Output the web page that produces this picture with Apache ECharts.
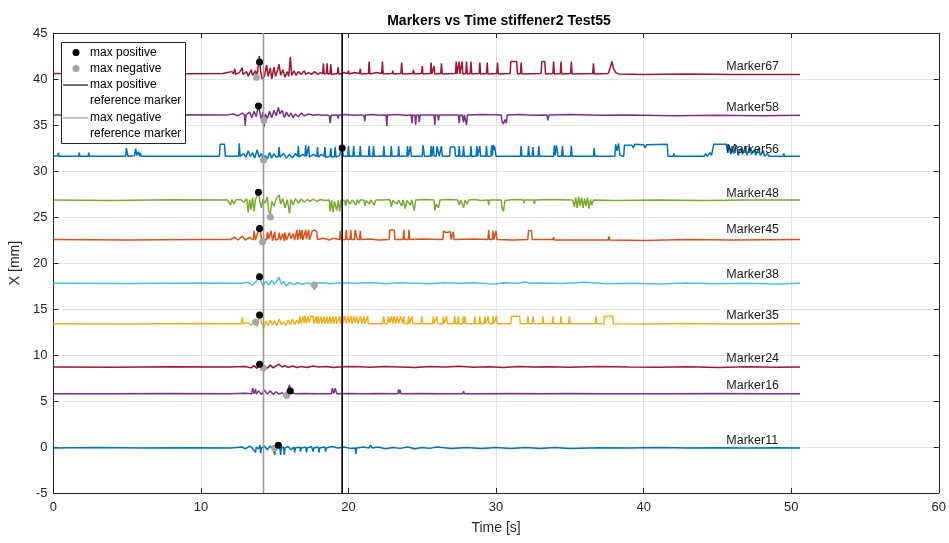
<!DOCTYPE html>
<html>
<head>
<meta charset="utf-8">
<script src="https://cdn.jsdelivr.net/npm/echarts@6/dist/echarts.min.js"></script>
<style>
  html, body { margin: 0; padding: 0; background: #fff; }
  #chart { width: 949px; height: 543px; }
</style>
</head>
<body>
<div id="chart"></div>
<script>
// marker names, bottom to top
const markerNames = ['Marker11', 'Marker16', 'Marker24', 'Marker35', 'Marker38', 'Marker45', 'Marker48', 'Marker56', 'Marker58', 'Marker67'];
const markerColors = ['#0072BD', '#7E2F8E', '#A2142F', '#EDB120', '#4DBEEE', '#D95319', '#77AC30', '#0072BD', '#7E2F8E', '#A2142F'];

// [time s, X mm]
const m11 = [[0,-0.1],[3,-0.05],[6,-0.12],[9,-0.08],[12,-0.1],[12.8,0.0],[13.0,-0.2],[13.3,0.1],[13.5,-0.15],[13.7,-0.6],[13.75,0.0],[13.9,-0.2],[14.0,0.2],[14.05,-0.7],[14.1,-0.1],[14.3,0.1],[14.5,-0.3],[14.7,0.1],[14.9,-0.2],[15.0,-0.85],[15.05,-0.1],[15.25,0.25],[15.35,-0.1],[15.4,-0.9],[15.45,-0.1],[15.6,0.0],[15.65,-0.85],[15.7,-0.1],[15.9,0.05],[16.1,-0.3],[16.3,0.0],[16.35,-0.6],[16.4,-0.1],[16.7,0.0],[16.75,-0.5],[16.8,-0.1],[17.1,0.0],[17.15,-0.6],[17.2,-0.1],[17.5,0.05],[17.6,-0.5],[17.65,-0.1],[17.95,0.0],[18.0,-0.6],[18.05,-0.1],[18.4,0.0],[18.45,-0.5],[18.5,-0.1],[18.9,0.05],[19.3,-0.1],[19.7,0.0],[20.1,-0.15],[20.45,-0.1],[20.5,-0.75],[20.55,-0.1],[21.0,0.0],[21.4,-0.1],[21.5,0.2],[21.6,-0.1],[22.0,0.0],[22.5,-0.2],[23.0,-0.05],[23.5,-0.15],[24,0.0],[24.5,-0.2],[25,-0.05],[25.5,-0.15],[26,0.0],[27,-0.15],[28,-0.05],[29,-0.15],[30,-0.05],[31,-0.15],[32,-0.05],[33,-0.15],[34,-0.05],[35,-0.15],[37,-0.08],[39,-0.12],[41,-0.06],[43,-0.12],[45,-0.08],[47,-0.12],[49,-0.08],[50.6,-0.1]];
const m16 = [[0,5.8],[4,5.78],[8,5.82],[12,5.8],[13.0,5.85],[13.45,5.8],[13.5,6.4],[13.6,5.8],[13.7,6.3],[13.75,5.75],[13.9,6.1],[14.1,5.7],[14.3,6.2],[14.5,5.75],[14.7,6.1],[14.9,5.7],[15.1,6.0],[15.3,5.75],[15.5,5.9],[15.7,5.65],[15.8,5.57],[15.9,6.2],[16.0,6.75],[16.1,6.0],[16.2,5.9],[16.35,5.8],[17,5.82],[18,5.78],[18.85,5.8],[18.9,6.4],[19.0,5.8],[19.1,6.4],[19.2,5.8],[20,5.82],[21,5.78],[22,5.82],[23.35,5.8],[23.4,6.25],[23.45,5.8],[23.5,6.2],[23.55,5.8],[25,5.82],[26.5,5.78],[27.75,5.8],[27.8,6.05],[27.85,5.8],[29,5.78],[31,5.82],[33,5.78],[35,5.82],[37,5.78],[39,5.8],[42,5.78],[45,5.82],[48,5.78],[50.6,5.8]];
const m24 = [[0,8.7],[4,8.68],[8,8.72],[12,8.7],[13.0,8.75],[13.4,8.6],[13.6,8.85],[13.8,8.55],[13.97,9.05],[14.1,8.6],[14.3,8.8],[14.5,8.55],[14.7,8.9],[14.9,8.6],[15.1,8.85],[15.3,9.0],[15.5,8.7],[15.7,8.85],[15.9,8.65],[16.2,8.8],[16.5,8.65],[16.8,8.75],[17.2,8.65],[17.6,8.8],[18.0,8.7],[18.5,8.75],[19.0,8.65],[19.5,8.72],[20.5,8.75],[21.5,8.68],[22.5,8.75],[23.5,8.7],[24.5,8.65],[25.5,8.75],[26.5,8.7],[27.5,8.78],[28.5,8.68],[29.5,8.72],[30.5,8.65],[31.5,8.75],[32.5,8.7],[33.5,8.72],[35,8.68],[37,8.75],[39,8.7],[41,8.68],[43,8.72],[45,8.65],[47,8.72],[49,8.68],[50.6,8.7]];
const m35 = [[0,13.4],[5,13.38],[10,13.42],[12.75,13.4],[12.8,14.1],[12.85,13.4],[13.2,13.5],[13.4,13.2],[13.55,13.6],[13.7,13.5],[13.8,13.1],[13.9,13.8],[14.0,14.35],[14.1,13.5],[14.25,13.0],[14.4,13.7],[14.55,13.2],[14.7,13.8],[14.85,13.3],[15.0,13.7],[15.15,13.2],[15.3,13.9],[15.45,13.3],[15.6,13.6],[15.75,13.2],[15.9,13.8],[16.05,13.3],[16.2,13.9],[16.35,13.3],[16.5,13.8],[16.65,13.4],[16.7,14.2],[16.8,13.4],[16.9,14.2],[17.0,13.5],[17.05,14.25],[17.15,13.4],[17.25,14.2],[17.35,13.5],[17.45,14.25],[17.6,14.2],[17.65,13.4],[17.8,14.2],[17.85,13.4],[17.95,14.2],[18.0,13.4],[18.15,14.2],[18.2,13.4],[18.35,14.2],[18.4,13.4],[18.55,14.2],[18.6,13.4],[18.75,14.2],[18.8,13.4],[18.95,14.2],[19.0,13.4],[19.15,14.2],[19.2,13.4],[19.4,14.2],[19.45,13.4],[19.6,14.2],[19.65,13.5],[19.75,14.25],[19.85,13.4],[19.95,14.2],[20.05,13.5],[20.15,14.25],[20.25,13.4],[20.35,14.2],[20.45,13.5],[20.55,14.2],[20.65,13.4],[20.8,14.2],[20.9,13.4],[21.05,14.2],[21.1,13.4],[21.3,14.2],[21.35,13.4],[22.3,13.4],[22.38,14.2],[22.45,13.4],[22.65,13.4],[22.7,14.2],[22.8,13.5],[22.9,14.2],[23.0,13.4],[23.1,14.2],[23.2,13.4],[23.3,14.2],[23.4,13.45],[23.55,14.2],[23.65,13.4],[23.75,14.2],[23.8,13.4],[24.02,13.4],[24.07,14.2],[24.12,13.4],[24.25,13.4],[24.3,14.2],[24.35,13.4],[24.92,13.4],[24.97,14.2],[25.02,13.4],[25.7,13.4],[25.75,14.2],[25.8,13.4],[25.93,13.4],[25.98,14.2],[26.03,13.4],[26.38,13.4],[26.43,14.2],[26.48,13.4],[26.6,13.4],[26.65,14.2],[26.7,13.4],[27.15,13.4],[27.2,14.2],[27.25,13.4],[27.39,13.4],[27.44,14.2],[27.49,13.4],[27.73,13.4],[27.78,14.2],[27.83,13.4],[27.85,13.4],[27.9,14.2],[27.95,13.4],[28.51,13.4],[28.56,14.2],[28.61,13.4],[28.85,13.4],[28.9,14.2],[28.95,13.4],[29.19,13.4],[29.24,14.2],[29.29,13.4],[29.42,13.4],[29.47,14.2],[29.52,13.4],[29.75,13.4],[29.8,14.2],[29.85,13.4],[29.98,13.4],[30.03,14.2],[30.08,13.4],[31.0,13.4],[31.04,14.2],[31.6,14.2],[31.64,13.4],[32.11,13.4],[32.16,14.2],[32.21,13.4],[32.45,13.4],[32.5,14.2],[32.55,13.4],[33.13,13.4],[33.18,14.2],[33.23,13.4],[33.8,13.4],[33.85,14.2],[33.9,13.4],[34.35,13.4],[34.4,14.2],[34.45,13.4],[34.92,13.4],[34.97,14.2],[35.02,13.4],[36.72,13.4],[36.77,14.2],[36.82,13.4],[37.3,13.4],[37.35,14.2],[37.9,14.2],[37.95,13.4],[40,13.38],[43,13.42],[46,13.38],[50.6,13.4]];
const m38 = [[0,17.8],[5,17.78],[10,17.82],[12.8,17.8],[13.2,17.9],[13.5,17.6],[13.75,18.0],[13.97,18.5],[14.1,17.9],[14.2,17.5],[14.4,18.0],[14.6,17.6],[14.8,18.1],[15.0,17.7],[15.3,18.45],[15.45,17.7],[15.6,18.0],[15.8,17.5],[16.0,17.9],[16.3,17.65],[16.6,17.85],[16.9,17.7],[17.2,17.85],[17.5,17.7],[17.68,17.1],[17.8,17.8],[18.2,17.85],[18.8,17.75],[19.5,17.85],[20.5,17.8],[21.5,17.88],[22.5,17.75],[23.5,17.85],[24.5,17.8],[25.5,17.75],[26.5,17.85],[27.5,17.8],[28.5,17.85],[29.5,17.75],[30,17.72],[30.5,17.85],[31.5,17.8],[32.0,17.95],[32.3,17.8],[33,17.82],[34.5,17.78],[36,17.9],[37.5,17.75],[39,17.8],[41,17.72],[43,17.82],[45,17.75],[47,17.8],[49,17.72],[50.6,17.8]];
const m45 = [[0,22.55],[5,22.5],[10,22.55],[12.0,22.55],[12.3,22.8],[12.5,22.5],[12.8,22.9],[13.0,22.5],[13.3,22.8],[13.55,22.5],[13.6,23.5],[13.7,22.5],[13.85,23.3],[14.0,23.8],[14.1,22.6],[14.17,22.3],[14.3,22.6],[14.45,22.5],[14.5,23.4],[14.6,22.6],[14.75,23.5],[14.85,22.4],[15.0,23.4],[15.05,22.5],[15.25,22.6],[15.3,23.3],[15.4,22.5],[15.55,23.2],[15.65,22.4],[15.7,23.3],[15.8,22.5],[16.0,23.3],[16.1,22.6],[16.25,23.2],[16.35,22.5],[16.5,23.6],[16.55,22.5],[16.7,23.6],[16.75,22.6],[16.85,23.6],[16.9,22.5],[17.1,23.6],[17.15,22.6],[17.3,23.6],[17.35,22.5],[17.55,23.5],[17.7,23.6],[17.85,23.4],[17.9,22.55],[18.3,22.7],[18.7,22.5],[19.0,22.7],[19.4,22.55],[19.45,23.5],[19.5,22.5],[19.8,22.55],[19.85,23.6],[19.9,22.55],[20.1,22.55],[20.15,23.6],[20.2,22.55],[20.4,22.55],[20.45,23.6],[20.55,23.6],[20.6,22.55],[20.75,22.55],[20.8,23.5],[20.85,22.55],[21.5,22.6],[22.0,22.5],[22.75,22.55],[22.8,23.6],[23.1,23.6],[23.15,22.55],[23.7,22.55],[23.75,23.6],[23.8,22.55],[24.05,22.55],[24.1,23.6],[24.15,22.55],[25.0,22.6],[26.4,22.55],[26.45,23.5],[26.6,23.3],[26.9,23.4],[26.95,22.55],[27.05,22.55],[27.1,23.4],[27.15,22.55],[28.5,22.6],[29.45,22.55],[29.5,23.6],[29.55,22.55],[29.75,22.55],[29.8,23.5],[29.85,22.55],[29.95,22.55],[30.0,23.5],[30.05,22.55],[31.2,22.5],[32.15,22.55],[32.2,23.5],[32.3,23.3],[32.4,23.5],[32.45,22.55],[33.85,22.55],[33.9,22.8],[33.95,22.5],[34.95,22.5],[35.0,22.7],[35.05,22.45],[37.6,22.5],[37.65,22.9],[37.7,22.5],[40,22.45],[43,22.55],[46,22.5],[50.6,22.55]];
const m48 = [[0,26.85],[4,26.8],[8,26.87],[11.8,26.85],[12.0,26.3],[12.1,26.9],[12.25,26.4],[12.35,26.85],[12.7,26.9],[12.9,26.6],[13.1,27.0],[13.2,25.5],[13.3,26.9],[13.4,25.8],[13.5,27.1],[13.6,25.6],[13.7,26.9],[13.9,27.7],[14.0,26.6],[14.1,26.0],[14.2,26.9],[14.35,26.5],[14.5,27.2],[14.6,25.6],[14.7,25.3],[14.8,26.7],[14.95,26.2],[15.1,27.0],[15.3,27.4],[15.4,26.4],[15.55,27.0],[15.7,26.0],[15.85,26.9],[16.0,25.4],[16.1,26.9],[16.25,26.3],[16.4,27.0],[16.6,26.5],[16.8,26.95],[17.0,26.6],[17.2,26.9],[17.4,26.7],[17.6,26.95],[17.85,26.7],[18.1,26.9],[18.4,26.8],[18.7,26.85],[18.75,25.6],[18.85,26.8],[18.95,25.5],[19.05,26.7],[19.2,25.7],[19.3,26.8],[19.4,25.6],[19.5,26.85],[19.75,26.8],[19.8,26.2],[19.9,26.9],[20.1,26.4],[20.25,26.85],[20.5,26.3],[20.6,26.9],[20.7,26.5],[20.8,26.85],[21.05,26.85],[21.1,26.2],[21.2,26.8],[21.4,26.4],[21.5,26.85],[21.75,26.3],[21.85,26.85],[22.4,26.85],[22.8,26.9],[22.9,26.1],[23.0,26.8],[23.3,26.4],[23.4,26.85],[23.6,26.2],[23.7,26.85],[23.85,25.9],[23.95,26.8],[24.2,26.3],[24.3,26.85],[24.45,25.7],[24.55,26.85],[25.2,26.9],[25.8,26.85],[25.85,25.7],[25.95,26.4],[26.1,26.0],[26.2,26.85],[26.8,26.9],[27.4,26.85],[27.5,26.3],[27.6,26.85],[27.8,26.0],[27.9,26.85],[28.05,26.4],[28.15,26.85],[28.5,26.9],[29.0,26.8],[29.45,26.85],[29.5,26.3],[29.55,26.85],[30.35,26.85],[30.4,26.0],[30.5,25.6],[30.6,26.8],[31.2,26.9],[31.85,26.85],[31.9,26.5],[31.95,26.85],[32.55,26.85],[32.6,26.4],[32.65,26.85],[33.5,26.9],[35.2,26.85],[35.3,26.1],[35.4,27.1],[35.5,26.0],[35.6,27.2],[35.7,26.2],[35.8,27.1],[35.9,26.0],[36.0,27.0],[36.1,26.2],[36.2,27.1],[36.3,25.9],[36.4,26.9],[36.5,26.3],[36.6,26.85],[38,26.8],[41,26.85],[44,26.8],[47,26.85],[50.6,26.85]];
const m56 = [[0,31.6],[0.3,31.65],[0.34,32.0],[0.38,31.6],[1.7,31.6],[1.75,32.0],[1.8,31.6],[2.35,31.6],[2.4,32.0],[2.45,31.6],[4.9,31.6],[4.95,32.5],[5.05,31.6],[5.5,31.65],[5.58,32.4],[5.65,31.7],[5.75,32.1],[5.85,31.6],[5.9,32.0],[5.95,31.6],[8,31.6],[11.25,31.6],[11.3,32.9],[11.6,32.9],[11.65,31.6],[12.55,31.6],[12.6,33.0],[12.65,31.6],[12.9,31.9],[13.05,31.5],[13.2,32.2],[13.35,31.6],[13.5,32.0],[13.65,31.4],[13.8,32.3],[13.95,31.5],[14.1,31.9],[14.24,31.1],[14.35,31.7],[14.5,31.3],[14.65,32.0],[14.8,31.4],[14.95,31.9],[15.1,31.5],[15.25,31.6],[15.3,32.6],[15.35,31.5],[15.6,31.9],[15.8,31.4],[16.0,31.8],[16.2,31.4],[16.4,31.9],[16.55,31.6],[16.6,32.7],[16.65,31.5],[16.9,31.8],[17.05,31.6],[17.1,32.8],[17.15,31.6],[17.25,31.6],[17.3,32.7],[17.35,31.5],[17.6,31.8],[17.85,31.6],[17.9,32.6],[17.95,31.5],[18.15,31.8],[18.35,31.6],[18.4,32.6],[18.45,31.5],[18.75,31.6],[18.8,32.5],[18.85,31.5],[19.05,31.6],[19.1,32.6],[19.15,31.5],[19.4,31.7],[19.52,31.6],[19.57,32.8],[19.65,31.6],[19.95,31.6],[20.0,32.7],[20.05,31.6],[20.3,31.6],[20.35,32.7],[20.4,31.6],[20.75,31.6],[20.8,32.7],[20.85,31.6],[21.35,31.6],[21.4,32.7],[21.45,31.6],[21.65,31.6],[21.7,32.7],[21.75,31.6],[22.35,31.6],[22.4,32.7],[22.45,31.6],[22.85,31.6],[22.9,32.7],[22.95,31.6],[23.35,31.6],[23.4,32.7],[23.45,31.6],[23.95,31.6],[24.0,32.7],[24.05,31.6],[24.15,31.6],[24.2,32.7],[24.25,31.6],[25.0,31.6],[25.05,32.8],[25.1,32.8],[25.15,31.6],[25.55,31.6],[25.6,32.7],[25.65,31.6],[25.7,31.6],[25.75,32.7],[25.8,31.6],[25.95,31.6],[26.0,32.7],[26.1,32.7],[26.15,31.6],[26.25,31.6],[26.3,32.7],[26.35,31.6],[26.85,31.6],[26.9,32.6],[27.2,32.6],[27.25,31.6],[27.45,31.6],[27.5,32.7],[27.55,31.6],[27.75,31.6],[27.8,32.7],[27.85,31.6],[28.25,31.6],[28.3,32.7],[28.35,31.6],[28.65,31.6],[28.7,32.7],[28.75,31.6],[28.85,31.6],[28.9,32.7],[28.95,31.6],[29.3,31.6],[29.35,32.7],[29.4,31.6],[29.65,31.6],[29.7,32.8],[29.75,31.7],[29.8,32.8],[29.85,32.3],[29.9,32.7],[30.0,31.6],[31.65,31.6],[31.7,32.7],[31.75,31.6],[32.15,31.6],[32.2,32.7],[32.25,31.6],[32.45,31.6],[32.5,32.6],[32.55,31.6],[32.85,31.6],[32.9,32.7],[32.95,31.6],[33.9,31.6],[33.95,32.8],[34.0,31.7],[34.1,32.8],[34.2,31.6],[34.45,31.6],[34.5,32.7],[34.55,31.6],[35.05,31.6],[35.1,32.7],[35.15,31.6],[36.6,31.6],[36.65,32.5],[36.7,31.6],[38.05,31.6],[38.1,32.9],[38.2,32.2],[38.3,33.0],[38.4,31.7],[38.65,31.6],[38.7,32.8],[39.2,32.8],[39.3,32.5],[39.4,32.9],[40.0,32.85],[40.1,32.5],[40.2,32.85],[41.6,32.9],[41.65,31.6],[42.0,31.6],[42.05,31.9],[42.1,31.6],[44.1,31.6],[44.2,31.9],[44.3,31.6],[44.5,32.0],[44.6,31.7],[44.75,32.9],[45.6,32.9],[45.7,32.0],[45.8,32.8],[45.9,31.8],[46.0,32.7],[46.1,31.9],[46.3,32.8],[46.4,31.7],[46.6,32.5],[46.7,31.8],[46.9,32.7],[47.0,31.7],[47.2,32.6],[47.3,31.8],[47.5,32.3],[47.6,31.7],[47.8,32.5],[47.9,31.7],[48.1,32.2],[48.2,31.6],[48.4,31.9],[48.5,31.6],[49.45,31.6],[49.5,31.9],[49.55,31.6],[50.6,31.6]];
const m58 = [[0,36.1],[4,36.05],[8,36.12],[11.8,36.1],[12.2,36.2],[12.5,36.0],[12.8,36.3],[12.95,36.1],[13.0,34.9],[13.05,36.1],[13.3,36.4],[13.45,35.8],[13.6,36.5],[13.75,35.9],[13.9,37.2],[14.0,36.3],[14.1,35.6],[14.2,36.4],[14.28,34.8],[14.36,36.2],[14.5,35.7],[14.65,36.5],[14.8,35.8],[14.95,36.6],[15.1,36.0],[15.25,36.9],[15.35,36.2],[15.5,36.6],[15.65,35.8],[15.8,36.4],[15.95,35.9],[16.1,36.3],[16.25,35.8],[16.4,36.2],[16.6,35.9],[16.8,36.3],[17.0,36.0],[17.3,36.2],[17.6,36.05],[17.9,36.15],[18.2,36.05],[18.5,36.1],[18.7,36.0],[18.76,35.2],[18.82,36.05],[19.25,36.1],[19.3,35.7],[19.35,36.1],[19.8,36.15],[20.3,36.05],[20.8,36.1],[21.05,36.05],[21.1,35.4],[21.15,36.1],[21.6,36.15],[22.1,36.05],[22.55,36.1],[22.6,34.9],[22.65,36.1],[23.3,36.15],[23.8,36.05],[24.25,36.1],[24.3,35.2],[24.35,36.1],[24.5,36.05],[24.55,35.0],[24.6,36.1],[24.75,36.05],[24.8,35.3],[24.85,36.1],[25.8,36.1],[25.85,35.0],[25.9,36.1],[26.05,36.05],[26.1,35.5],[26.15,36.1],[27.45,36.1],[27.5,35.2],[27.55,36.05],[27.7,36.1],[27.8,35.3],[27.85,36.1],[27.95,36.05],[28.0,35.0],[28.05,36.1],[29.0,36.15],[30.35,36.1],[30.4,35.4],[30.5,35.1],[30.6,35.6],[30.7,35.2],[30.75,36.1],[31.5,36.15],[32.5,36.05],[33.45,36.1],[33.5,35.5],[33.55,35.3],[33.6,36.1],[35,36.15],[37,36.05],[39,36.1],[42,36.0],[45,36.05],[48,36.0],[50.6,36.05]];
const m67 = [[0,40.6],[3,40.55],[6,40.62],[9,40.58],[11.5,40.6],[11.8,40.7],[11.9,40.5],[12.1,40.8],[12.2,40.55],[12.3,41.1],[12.35,40.5],[12.6,40.7],[12.8,41.2],[12.85,40.5],[13.1,40.8],[13.2,40.3],[13.4,41.0],[13.5,40.4],[13.7,40.9],[13.8,40.2],[13.95,42.5],[14.05,40.8],[14.15,40.0],[14.3,40.3],[14.45,41.5],[14.55,40.3],[14.7,41.2],[14.8,40.0],[14.95,41.3],[15.05,40.3],[15.2,41.0],[15.3,41.6],[15.4,40.4],[15.55,41.0],[15.7,40.2],[15.85,40.8],[15.95,40.3],[16.06,42.4],[16.15,40.4],[16.3,40.9],[16.45,40.4],[16.6,40.8],[16.8,40.5],[17.0,40.9],[17.1,40.5],[17.3,40.7],[17.5,40.5],[17.7,40.8],[17.9,40.5],[18.1,40.7],[18.25,40.55],[18.3,41.7],[18.35,40.55],[18.5,40.6],[18.55,41.7],[18.6,40.55],[18.75,40.6],[18.8,41.6],[18.85,40.5],[19.25,40.6],[19.3,41.3],[19.35,40.5],[19.7,40.7],[19.95,40.6],[20.0,40.9],[20.05,40.55],[20.4,40.7],[20.75,40.6],[20.8,41.1],[20.85,40.55],[21.35,40.6],[21.4,41.9],[21.45,40.55],[21.9,40.7],[22.25,40.6],[22.3,41.9],[22.35,40.55],[22.95,40.6],[23.0,40.9],[23.05,40.55],[23.55,40.6],[23.6,41.8],[23.65,40.55],[24.35,40.6],[24.4,41.0],[24.45,40.55],[24.95,40.6],[25.0,41.4],[25.05,40.55],[25.55,40.6],[25.6,41.8],[25.65,40.55],[25.75,40.6],[25.8,41.4],[25.85,40.55],[26.25,40.6],[26.3,41.7],[26.35,40.55],[27.25,40.6],[27.3,41.9],[27.35,40.55],[27.45,40.6],[27.5,41.9],[27.55,40.55],[27.65,40.6],[27.7,41.9],[27.75,40.55],[27.95,40.6],[28.0,41.9],[28.05,40.55],[28.25,40.6],[28.3,41.9],[28.35,40.55],[28.85,40.6],[28.9,41.8],[28.95,40.55],[29.35,40.6],[29.4,41.8],[29.45,40.55],[30.05,40.6],[30.1,41.8],[30.15,40.55],[30.95,40.6],[31.0,41.9],[31.4,41.9],[31.45,40.55],[31.65,40.6],[31.7,41.8],[31.75,40.55],[33.05,40.6],[33.1,41.9],[33.3,41.9],[33.35,40.55],[33.85,40.6],[33.9,41.9],[33.95,40.55],[34.35,40.6],[34.4,41.9],[34.45,40.55],[35.05,40.6],[35.1,41.9],[35.15,40.55],[36.55,40.6],[36.6,41.7],[36.65,40.55],[37.6,40.6],[37.75,41.3],[37.85,41.9],[37.95,41.2],[38.1,40.7],[38.3,40.55],[40,40.5],[43,40.55],[46,40.5],[50.6,40.5]];
const markerData = [m11, m16, m24, m35, m38, m45, m48, m56, m58, m67];

// max positive / max negative points per marker (same order)
const maxPosX = [15.25, 16.06, 13.97, 13.97, 13.97, 13.97, 13.9, 19.57, 13.9, 13.97];
const maxPosY = [0.2, 6.1, 9.0, 14.35, 18.5, 23.75, 27.7, 32.5, 37.07, 41.85];
const maxNegX = [15.0, 15.8, 14.24, 13.7, 17.68, 14.17, 14.71, 14.24, 14.27, 13.77];
const maxNegY = [-0.1, 5.6, 8.6, 13.6, 17.6, 22.3, 25.0, 31.2, 35.5, 40.2];

// reference marker times
const refPosTime = 19.57;
const refNegTime = 14.24;

// name label anchors
const labelX = 45.6;
const labelY = [0.65, 6.7, 9.65, 14.25, 18.7, 23.6, 27.6, 32.3, 36.95, 41.4];

const textColor = '#262626';
const font = 'Liberation Sans, Arial, Helvetica, sans-serif';

const chart = echarts.init(document.getElementById('chart'), null, { renderer: 'canvas' });

const series = [];
markerNames.forEach((name, i) => {
  series.push({
    name: name,
    type: 'line',
    data: markerData[i],
    showSymbol: false,
    symbol: 'none',
    lineStyle: { color: markerColors[i], width: 1.5 },
    z: 2,
    silent: true,
  });
});

series.push({
  name: 'max positive reference marker',
  type: 'line',
  data: [[refPosTime, -5], [refPosTime, 45]],
  symbol: 'none',
  lineStyle: { color: '#000', width: 1.6 },
  z: 3,
});
series.push({
  name: 'max negative reference marker',
  type: 'line',
  data: [[refNegTime, -5], [refNegTime, 45]],
  symbol: 'none',
  lineStyle: { color: '#9a9a9a', width: 1.6 },
  z: 3,
});
series.push({
  name: 'max positive',
  type: 'scatter',
  data: maxPosX.map((x, i) => [x, maxPosY[i]]),
  symbolSize: 7,
  itemStyle: { color: '#000', opacity: 1 },
  z: 5,
});
series.push({
  name: 'max negative',
  type: 'scatter',
  data: maxNegX.map((x, i) => [x, maxNegY[i]]),
  symbolSize: 7,
  itemStyle: { color: '#a6a6a6', opacity: 1 },
  z: 4,
});
series.push({
  name: 'labels',
  type: 'scatter',
  data: markerNames.map((n, i) => [labelX, labelY[i], n]),
  symbolSize: 0,
  itemStyle: { opacity: 1 },
  label: {
    show: true,
    position: 'right',
    distance: 0,
    formatter: p => p.data[2],
    color: '#1a1a1a',
    opacity: 1,
    fontSize: 12.5,
    fontFamily: font,
  },
  z: 6,
});

const axisLineStyle = { show: true, onZero: false, lineStyle: { color: textColor } };
const tickStyle = { show: true, inside: true, length: 5, lineStyle: { color: textColor } };

const option = {
  animation: false,
  backgroundColor: '#fff',
  title: {
    text: 'Markers vs Time stiffener2 Test55',
    left: 494,
    textAlign: 'center',
    top: 9,
    textStyle: { fontSize: 14, fontWeight: 'bold', color: '#000', fontFamily: font },
  },
  grid: {
    left: 50, right: 10, top: 33, bottom: 50,
  },
  xAxis: [
    {
      type: 'value', min: 0, max: 60, interval: 10,
      name: 'Time [s]', nameLocation: 'middle', nameGap: 28,
      nameTextStyle: { fontSize: 14, color: textColor, fontFamily: font },
      axisLine: axisLineStyle,
      axisTick: tickStyle,
      axisLabel: { fontSize: 13, color: textColor, fontFamily: font, margin: 8 },
      splitLine: { show: true, lineStyle: { color: '#e3e3e3', width: 1 } },
    },
    {
      type: 'value', min: 0, max: 60, interval: 10, position: 'top',
      axisLine: axisLineStyle,
      axisTick: tickStyle,
      axisLabel: { show: false },
      splitLine: { show: false },
    },
  ],
  yAxis: [
    {
      type: 'value', min: -5, max: 45, interval: 5,
      name: 'X [mm]', nameLocation: 'middle', nameGap: 27, nameRotate: 90,
      nameTextStyle: { fontSize: 14, color: textColor, fontFamily: font },
      axisLine: axisLineStyle,
      axisTick: tickStyle,
      axisLabel: { fontSize: 13, color: textColor, fontFamily: font, margin: 6 },
      splitLine: { show: true, lineStyle: { color: '#e3e3e3', width: 1 } },
    },
    {
      type: 'value', min: -5, max: 45, interval: 5, position: 'right',
      axisLine: axisLineStyle,
      axisTick: tickStyle,
      axisLabel: { show: false },
      splitLine: { show: false },
    },
  ],
  // legend box drawn like the MATLAB one
  graphic: [
    { type: 'rect', shape: { x: 61.5, y: 42.5, width: 124, height: 101 }, style: { fill: '#fff', stroke: textColor, lineWidth: 1 }, z: 20 },
    { type: 'circle', shape: { cx: 76, cy: 52.5, r: 3.5 }, style: { fill: '#000' }, z: 21 },
    { type: 'circle', shape: { cx: 76, cy: 68.5, r: 3.5 }, style: { fill: '#a6a6a6' }, z: 21 },
    { type: 'line', shape: { x1: 63, y1: 85, x2: 88, y2: 85 }, style: { stroke: textColor, lineWidth: 1.3 }, z: 21 },
    { type: 'line', shape: { x1: 63, y1: 118, x2: 88, y2: 118 }, style: { stroke: '#a6a6a6', lineWidth: 1.3 }, z: 21 },
    { type: 'text', x: 90, y: 52.5, style: { text: 'max positive', fill: '#000', font: '12px ' + font, textVerticalAlign: 'middle' }, z: 21 },
    { type: 'text', x: 90, y: 68.5, style: { text: 'max negative', fill: '#000', font: '12px ' + font, textVerticalAlign: 'middle' }, z: 21 },
    { type: 'text', x: 90, y: 85, style: { text: 'max positive', fill: '#000', font: '12px ' + font, textVerticalAlign: 'middle' }, z: 21 },
    { type: 'text', x: 90, y: 101, style: { text: 'reference marker', fill: '#000', font: '12px ' + font, textVerticalAlign: 'middle' }, z: 21 },
    { type: 'text', x: 90, y: 118, style: { text: 'max negative', fill: '#000', font: '12px ' + font, textVerticalAlign: 'middle' }, z: 21 },
    { type: 'text', x: 90, y: 134, style: { text: 'reference marker', fill: '#000', font: '12px ' + font, textVerticalAlign: 'middle' }, z: 21 },
  ],
  series: series,
};

chart.setOption(option);
</script>
</body>
</html>
